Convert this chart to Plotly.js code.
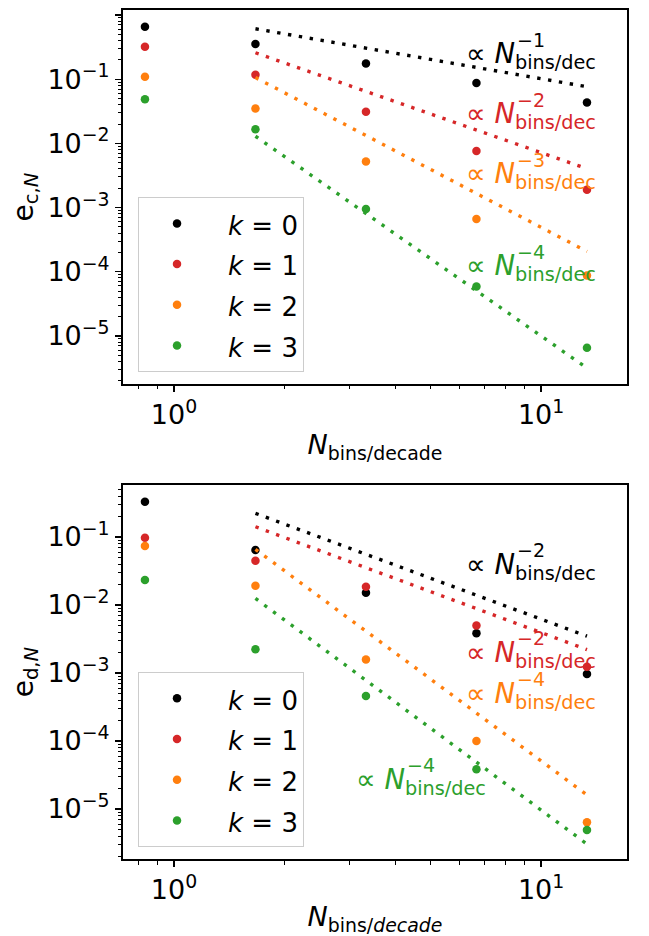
<!DOCTYPE html>
<html><head><meta charset="utf-8">
<script src="https://cdn.plot.ly/plotly-3.0.1.min.js"></script>
<style>html,body{margin:0;padding:0;background:#fff}#chart{width:649px;height:936px}</style>
</head><body><div id="chart"></div>
<script>
// ---------------- data ----------------
const nBins = [5/6, 5/3, 10/3, 20/3, 40/3];
const kNames = ["<i>k</i> = 0", "<i>k</i> = 1", "<i>k</i> = 2", "<i>k</i> = 3"];
const kColors = ["#000000", "#d62728", "#ff7f0e", "#2ca02c"];

const ecK0 = [0.657, 0.352, 0.176, 0.0875, 0.0432];
const ecK1 = [0.32, 0.117, 0.031, 0.0076, 0.0019];
const ecK2 = [0.109, 0.0348, 0.0052, 0.00066, 8.7e-5];
const ecK3 = [0.0487, 0.0166, 0.00095, 5.9e-5, 6.5e-6];

const edK0 = [0.331, 0.0645, 0.0151, 0.00384, 0.00097];
const edK1 = [0.0977, 0.0448, 0.0186, 0.0050, 0.00124];
const edK2 = [0.074, 0.0192, 0.00158, 1.0e-4, 6.4e-6];
const edK3 = [0.0234, 0.00224, 4.6e-4, 3.84e-5, 4.9e-6];

// power-law guides: value at the first guide N and exponent
const guideN = [5/3, 40/3];
const ecGuideStart = [0.61, 0.258, 0.106, 0.0129];
const ecGuidePower = [-1, -2, -3, -4];
const edGuideStart = [0.223, 0.1416, 0.066, 0.0125];
const edGuidePower = [-2, -2, -4, -4];

const yTickVals = [1e-5, 1e-4, 1e-3, 1e-2, 1e-1, 1];
const yTickText = ["10<sup>−5</sup>", "10<sup>−4</sup>", "10<sup>−3</sup>", "10<sup>−2</sup>", "10<sup>−1</sup>", "10<sup>0</sup>"];
const xTickVals = [1, 10];
const xTickText = ["10<sup>0</sup>", "10<sup>1</sup>"];

// ---------------- build ----------------
const FONT = "DejaVu Sans";
const ecSeries = [ecK0, ecK1, ecK2, ecK3];
const edSeries = [edK0, edK1, edK2, edK3];

function minorVals(lo, hi) {
  const v = [];
  for (let e = lo; e <= hi; e++) for (let m = 2; m <= 9; m++) v.push(m * Math.pow(10, e));
  return v;
}

const traces = [];
function addPanel(series, gStart, gPow, xa, ya, leg) {
  series.forEach((vals, k) => {
    traces.push({
      x: nBins, y: vals, xaxis: xa, yaxis: ya, type: "scatter", mode: "markers",
      name: "<span style='font-size:26px'>\u2002" + kNames[k] + "</span>",
      legend: leg,
      marker: {color: kColors[k], size: 8.5, line: {width: 0}}
    });
    traces.push({
      x: guideN, y: guideN.map(n => gStart[k] * Math.pow(n / guideN[0], gPow[k])),
      xaxis: xa, yaxis: ya, type: "scatter", mode: "lines", showlegend: false,
      line: {color: kColors[k], width: 3.4, dash: "3.4px,7.6px"}, hoverinfo: "skip"
    });
  });
}
addPanel(ecSeries, ecGuideStart, ecGuidePower, "x", "y", "legend");
addPanel(edSeries, edGuideStart, edGuidePower, "x2", "y2", "legend2");

function xAx(anchor, titleText) {
  return {
    type: "log", range: [-0.139, 1.234], domain: [0, 1], anchor: anchor,
    tickmode: "array", tickvals: xTickVals, ticktext: xTickText,
    ticks: "outside", ticklen: 6, tickwidth: 1.3, tickcolor: "#000",
    showline: true, linewidth: 2, linecolor: "#000", mirror: true,
    showgrid: false, zeroline: false,
    minor: {tickmode: "array", tickvals: minorVals(-1, 1), ticks: "outside", ticklen: 3.5, tickwidth: 1, tickcolor: "#000", showgrid: false},
    tickfont: {family: FONT, size: 27, color: "#000"},
    title: {text: titleText, font: {family: FONT, size: 27, color: "#000"}, standoff: 6},
    automargin: false
  };
}
function yAx(anchor, range, domain, titleText) {
  return {
    type: "log", range: range, domain: domain, anchor: anchor,
    tickmode: "array", tickvals: yTickVals, ticktext: yTickText,
    ticks: "outside", ticklen: 6, tickwidth: 1.3, tickcolor: "#000",
    showline: true, linewidth: 2, linecolor: "#000", mirror: true,
    showgrid: false, zeroline: false,
    minor: {tickmode: "array", tickvals: minorVals(-7, 0), ticks: "outside", ticklen: 3.5, tickwidth: 1, tickcolor: "#000", showgrid: false},
    tickfont: {family: FONT, size: 27, color: "#000"},
    title: {text: titleText, font: {family: FONT, size: 28, color: "#000"}, standoff: 6},
    automargin: false
  };
}

// annotation helper: pixel-based placement inside each panel
const PL = 123, PW = 504, PH = 374;
const annotations = [];
function powLabel(panel, px, pyc, power, color) {
  const xr = panel === 1 ? "x domain" : "x2 domain";
  const yr = panel === 1 ? "y domain" : "y2 domain";
  const bottom = panel === 1 ? 384 : 859;
  annotations.push({
    xref: xr, yref: yr, x: (px - 3 - PL) / PW, y: (bottom - (pyc + 4)) / PH,
    xanchor: "left", yanchor: "middle", showarrow: false, borderpad: 0,
    text: "∝ <i>N</i><sub>bins/dec</sub>",
    font: {family: FONT, size: 27.5, color: color}
  });
  annotations.push({
    xref: xr, yref: yr, x: (px + 48 - PL) / PW, y: (bottom - (pyc - 12)) / PH,
    xanchor: "left", yanchor: "middle", showarrow: false, borderpad: 0,
    text: "−" + Math.abs(power),
    font: {family: FONT, size: 19, color: color}
  });
}
const ecLabelPos = [[468, 52], [468, 112], [468, 172], [468, 264]];
const edLabelPos = [[468, 562], [468, 650], [468, 691], [358, 777]];
ecLabelPos.forEach((p, k) => powLabel(1, p[0], p[1], ecGuidePower[k], kColors[k]));
edLabelPos.forEach((p, k) => powLabel(2, p[0], p[1], edGuidePower[k], kColors[k]));

const legendBase = {
  xanchor: "left", yanchor: "top",
  bgcolor: "rgba(255,255,255,0.8)", bordercolor: "#cccccc", borderwidth: 1,
  font: {family: FONT, size: 29, color: "#000"}, itemwidth: 66, tracegroupgap: 0
};

const layout = {
  width: 649, height: 936,
  margin: {l: 123, r: 22, t: 10, b: 77},
  paper_bgcolor: "#fff", plot_bgcolor: "#fff",
  showlegend: true,
  xaxis: xAx("y", "<i>N</i><sub>bins/decade</sub>"),
  yaxis: yAx("x", [-5.75, 0.078], [0.5595, 1], "e<sub>c,<i>N</i></sub>"),
  xaxis2: xAx("y2", "<i>N</i><sub>bins/<i>decade</i></sub>"),
  yaxis2: yAx("x2", [-5.735, -0.235], [0, 0.4405], "e<sub>d,<i>N</i></sub>"),
  legend: Object.assign({x: 0.0298, y: 0.7797}, legendBase),
  legend2: Object.assign({x: 0.0298, y: 0.2203}, legendBase),
  annotations: annotations
};

Plotly.newPlot("chart", traces, layout, {staticPlot: true, displayModeBar: false});
</script>
</body></html>
